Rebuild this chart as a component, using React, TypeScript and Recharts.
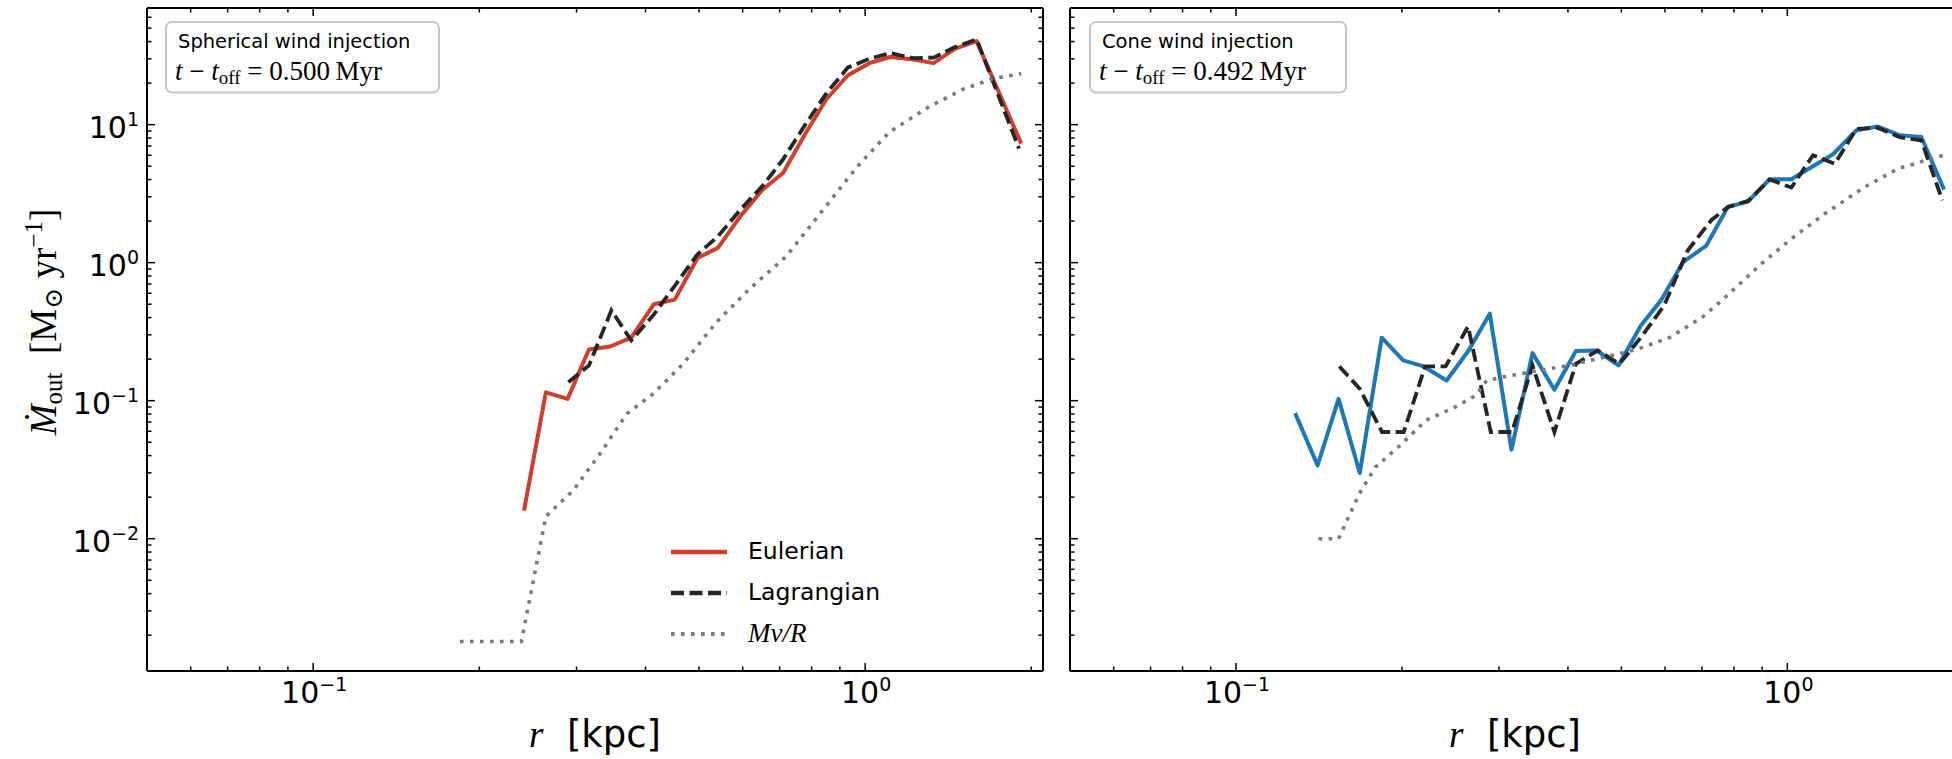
import { Legend, Line, LineChart, XAxis, YAxis } from "recharts";

// radius bins [kpc] and outflow rates [Msun/yr]
const SPH_EUL_R = [0.241, 0.264, 0.289, 0.316, 0.345, 0.377, 0.414, 0.452, 0.497, 0.541, 0.596, 0.652, 0.71, 0.779, 0.852, 0.931, 1.018, 1.11, 1.223, 1.33, 1.456, 1.592, 1.918];
const SPH_EUL_M = [0.016, 0.115, 0.103, 0.235, 0.247, 0.286, 0.499, 0.54, 1.08, 1.28, 2.2, 3.38, 4.46, 8.6, 15.4, 22.8, 27.9, 30.9, 29.6, 27.9, 35.5, 40.3, 7.28];

const SPH_LAG_R = [0.29, 0.316, 0.347, 0.377, 0.414, 0.452, 0.497, 0.541, 0.596, 0.652, 0.71, 0.779, 0.852, 0.931, 1.018, 1.11, 1.223, 1.33, 1.456, 1.592, 1.9];
const SPH_LAG_M = [0.136, 0.18, 0.451, 0.273, 0.42, 0.68, 1.15, 1.55, 2.45, 3.6, 5.6, 10, 17, 26, 30, 33, 30.3, 30.6, 36.5, 41.5, 6.7];

const SPH_MVR_R = [0.1845, 0.2384, 0.264, 0.296, 0.331, 0.37, 0.413, 0.468, 0.538, 0.618, 0.718, 0.833, 0.966, 1.105, 1.302, 1.511, 1.702, 1.918];
const SPH_MVR_M = [0.0018, 0.0018, 0.0145, 0.0224, 0.0413, 0.0805, 0.112, 0.185, 0.371, 0.648, 1.1, 2.33, 4.93, 8.8, 13.4, 18.2, 21.5, 23.4];

const CONE_EUL_R = [0.128, 0.1406, 0.1535, 0.1677, 0.1838, 0.201, 0.219, 0.241, 0.264, 0.2886, 0.316, 0.345, 0.378, 0.4135, 0.451, 0.494, 0.5425, 0.59, 0.647, 0.713, 0.78, 0.849, 0.929, 1.017, 1.113, 1.21, 1.334, 1.457, 1.6, 1.75, 1.924];
const CONE_EUL_M = [0.0813, 0.034, 0.103, 0.0299, 0.286, 0.196, 0.177, 0.14, 0.23, 0.427, 0.0442, 0.221, 0.12, 0.229, 0.231, 0.18, 0.351, 0.533, 1.01, 1.33, 2.53, 2.78, 4.02, 4.02, 5.0, 6.1, 9.1, 9.7, 8.37, 8.13, 3.38];

const CONE_LAG_R = [0.154, 0.1677, 0.184, 0.2015, 0.2203, 0.24, 0.2636, 0.2898, 0.3167, 0.345, 0.378, 0.4135, 0.453, 0.496, 0.546, 0.598, 0.66, 0.728, 0.78, 0.849, 0.929, 1.017, 1.113, 1.219, 1.334, 1.457, 1.6, 1.75, 1.91];
const CONE_LAG_M = [0.177, 0.122, 0.0593, 0.0593, 0.177, 0.177, 0.345, 0.0593, 0.0593, 0.18, 0.0593, 0.185, 0.231, 0.185, 0.297, 0.49, 1.23, 2.03, 2.53, 2.8, 4.0, 3.5, 6.0, 5.2, 9.3, 9.5, 8.1, 7.7, 2.83];

const CONE_MVR_R = [0.1412, 0.1535, 0.1674, 0.179, 0.2, 0.221, 0.25, 0.272, 0.285, 0.304, 0.35, 0.402, 0.462, 0.531, 0.611, 0.702, 0.77, 0.897, 1.017, 1.169, 1.381, 1.588, 1.917];
const CONE_MVR_M = [0.01, 0.01, 0.0212, 0.033, 0.0488, 0.072, 0.09, 0.109, 0.14, 0.148, 0.164, 0.18, 0.205, 0.234, 0.286, 0.404, 0.557, 0.98, 1.49, 2.26, 3.53, 4.8, 6.0];

const X_TICKS = [0.06, 0.07, 0.08, 0.09, 0.1, 0.2, 0.3, 0.4, 0.5, 0.6, 0.7, 0.8, 0.9, 1, 2];
const Y_TICKS = [
  0.002, 0.003, 0.004, 0.005, 0.006, 0.007, 0.008, 0.009, 0.01,
  0.02, 0.03, 0.04, 0.05, 0.06, 0.07, 0.08, 0.09, 0.1,
  0.2, 0.3, 0.4, 0.5, 0.6, 0.7, 0.8, 0.9, 1,
  2, 3, 4, 5, 6, 7, 8, 9, 10,
  20, 30, 40, 50, 60,
];
const X_DOMAIN = [0.05, 2.1];
const Y_DOMAIN = [0.0011, 70];

const zip = (r: number[], m: number[]) => r.map((v, i) => ({ r: v, m: m[i] }));

const LINE_STYLE: Record<string, { stroke: string; strokeWidth: number; strokeDasharray?: string }> = {
  Eulerian: { stroke: "#cd3f2e", strokeWidth: 4 },
  EulerianCone: { stroke: "#1f77b4", strokeWidth: 4 },
  Lagrangian: { stroke: "#262626", strokeWidth: 3.8, strokeDasharray: "13 5.5" },
  "Mv/R": { stroke: "#7a7a7a", strokeWidth: 3.6, strokeDasharray: "3.6 6.4" },
};

const SANS = "DejaVu Sans";
const SERIF = "'Liberation Serif', 'DejaVu Serif', serif";

const isMajor = (v: number) => Math.abs(Math.log10(v) - Math.round(Math.log10(v))) < 1e-6;

const expLabel = (v: number) => {
  const e = Math.round(Math.log10(v));
  return e < 0 ? `\u2212${-e}` : `${e}`;
};

type Side = "bottom" | "top" | "left" | "right";

function makeTick(side: Side, labels: boolean) {
  return (props: any) => {
    const { x, y, payload } = props;
    const v = payload.value as number;
    const major = isMajor(v);
    const len = major ? 8 : 4.5;
    let line;
    if (side === "bottom") line = <line x1={x} x2={x} y1={y} y2={y - len} />;
    else if (side === "top") line = <line x1={x} x2={x} y1={y} y2={y + len} />;
    else if (side === "left") line = <line x1={x} x2={x + len} y1={y} y2={y} />;
    else line = <line x1={x} x2={x - len} y1={y} y2={y} />;
    return (
      <g>
        <g stroke="#000" strokeWidth={1.5}>{line}</g>
        {labels && major && side === "bottom" && (
          <text x={x + 1} y={y + 32} textAnchor="middle" fontFamily={SANS} fontSize={30} fill="#000">
            10<tspan dy={-12} fontSize={19}>{expLabel(v)}</tspan>
          </text>
        )}
        {labels && major && side === "left" && (
          <text x={x - 8} y={y + 13.5} textAnchor="end" fontFamily={SANS} fontSize={30} fill="#000">
            10<tspan dy={-12} fontSize={19}>{expLabel(v)}</tspan>
          </text>
        )}
      </g>
    );
  };
}

const axisLine = { stroke: "#000", strokeWidth: 2 };

function LegendBox(props: any) {
  const { payload } = props;
  return (
    <div>
      {(payload ?? []).map((entry: any) => {
        const st = LINE_STYLE[entry.value] ?? LINE_STYLE.Eulerian;
        const math = entry.value === "Mv/R";
        return (
          <div key={entry.value} style={{ display: "flex", alignItems: "center", height: 41 }}>
            <svg width={56} height={10} style={{ display: "block" }}>
              <line x1={0} x2={56} y1={5} y2={5} stroke={st.stroke} strokeWidth={st.strokeWidth + 0.5} strokeDasharray={st.strokeDasharray} />
            </svg>
            <span
              style={{
                marginLeft: 21,
                fontFamily: math ? SERIF : SANS,
                fontStyle: math ? "italic" : "normal",
                fontSize: math ? 27 : 23.5,
                color: "#000",
                lineHeight: "41px",
              }}
            >
              {entry.value}
            </span>
          </div>
        );
      })}
    </div>
  );
}

interface PanelProps {
  left: number;
  width: number;
  yAxisWidth: number;
  yLabels: boolean;
  eulerian: { r: number; m: number }[];
  lagrangian: { r: number; m: number }[];
  mvr: { r: number; m: number }[];
  eulerianStyle: string;
  legend?: boolean;
}

function Panel({ left, width, yAxisWidth, yLabels, eulerian, lagrangian, mvr, eulerianStyle, legend }: PanelProps) {
  const eul = LINE_STYLE[eulerianStyle];
  const lag = LINE_STYLE.Lagrangian;
  const mv = LINE_STYLE["Mv/R"];
  return (
    <div style={{ position: "absolute", left, top: 0 }}>
      <LineChart width={width} height={759} margin={{ top: 7, right: 7, bottom: 0, left: 0 }}>
        <XAxis xAxisId="b" type="number" dataKey="r" scale="log" domain={X_DOMAIN} allowDataOverflow
          ticks={X_TICKS} interval={0} tickSize={0} tickMargin={0} height={88}
          axisLine={axisLine} tickLine={false} tick={makeTick("bottom", true)} />
        <XAxis xAxisId="t" orientation="top" type="number" dataKey="r" scale="log" domain={X_DOMAIN} allowDataOverflow
          ticks={X_TICKS} interval={0} tickSize={0} tickMargin={0} height={1}
          axisLine={axisLine} tickLine={false} tick={makeTick("top", false)} />
        <YAxis yAxisId="l" type="number" dataKey="m" scale="log" domain={Y_DOMAIN} allowDataOverflow
          ticks={Y_TICKS} interval={0} tickSize={0} tickMargin={0} width={yAxisWidth}
          axisLine={axisLine} tickLine={false} tick={makeTick("left", yLabels)} />
        <YAxis yAxisId="r" orientation="right" type="number" dataKey="m" scale="log" domain={Y_DOMAIN} allowDataOverflow
          ticks={Y_TICKS} interval={0} tickSize={0} tickMargin={0} width={10}
          axisLine={axisLine} tickLine={false} tick={makeTick("right", false)} />
        {legend && (
          <Legend layout="vertical" align="center" verticalAlign="middle" content={LegendBox}
            wrapperStyle={{ left: 671, top: 531, width: 260, height: 125 }} />
        )}
        <Line xAxisId="b" yAxisId="l" name="Eulerian" data={eulerian} dataKey="m" type="linear" dot={false}
          stroke={eul.stroke} strokeWidth={eul.strokeWidth} strokeLinejoin="round" isAnimationActive={false} />
        <Line xAxisId="b" yAxisId="l" name="Lagrangian" data={lagrangian} dataKey="m" type="linear" dot={false}
          stroke={lag.stroke} strokeWidth={lag.strokeWidth} strokeDasharray={lag.strokeDasharray} isAnimationActive={false} />
        <Line xAxisId="b" yAxisId="l" name="Mv/R" data={mvr} dataKey="m" type="linear" dot={false}
          stroke={mv.stroke} strokeWidth={mv.strokeWidth} strokeDasharray={mv.strokeDasharray} isAnimationActive={false} />
      </LineChart>
    </div>
  );
}

function InfoBox({ x, w, title, time }: { x: number; w: number; title: string; time: string }) {
  return (
    <g>
      <rect x={x} y={22} width={w} height={70.5} rx={6} fill="#fff" fillOpacity={0.8} stroke="#c8c8c8" strokeWidth={2} />
      <text x={x + 12} y={47.5} fontFamily={SANS} fontSize={19.5} fill="#000">{title}</text>
      <text x={x + 9} y={80} fontFamily={SERIF} fontSize={27} fill="#000" style={{ whiteSpace: "pre" }}>
        <tspan fontStyle="italic">t</tspan>
        <tspan>{" \u2212 "}</tspan>
        <tspan fontStyle="italic">t</tspan>
        <tspan fontSize={19} dy={4}>off</tspan>
        <tspan dy={-4}>{` = ${time}\u2009Myr`}</tspan>
      </text>
    </g>
  );
}

function XLabel({ cx }: { cx: number }) {
  return (
    <text x={cx} y={747} textAnchor="middle" fontSize={37} fill="#000" style={{ whiteSpace: "pre" }}>
      <tspan fontFamily={SERIF} fontStyle="italic">r</tspan>
      <tspan fontFamily={SANS}>{"  [kpc]"}</tspan>
    </text>
  );
}

export default function App() {
  return (
    <div style={{ position: "fixed", left: 0, top: 0, width: 1952, height: 759, overflow: "hidden", background: "#fff" }}>
      <Panel left={0} width={1060} yAxisWidth={147} yLabels
        eulerian={zip(SPH_EUL_R, SPH_EUL_M)} lagrangian={zip(SPH_LAG_R, SPH_LAG_M)} mvr={zip(SPH_MVR_R, SPH_MVR_M)}
        eulerianStyle="Eulerian" legend />
      <Panel left={1050} width={932} yAxisWidth={20} yLabels={false}
        eulerian={zip(CONE_EUL_R, CONE_EUL_M)} lagrangian={zip(CONE_LAG_R, CONE_LAG_M)} mvr={zip(CONE_MVR_R, CONE_MVR_M)}
        eulerianStyle="EulerianCone" />
      <svg width={1952} height={759} style={{ position: "absolute", left: 0, top: 0, pointerEvents: "none" }}>
        <InfoBox x={166} w={273} title="Spherical wind injection" time="0.500" />
        <InfoBox x={1090} w={256} title="Cone wind injection" time="0.492" />
        <XLabel cx={595} />
        <XLabel cx={1515} />
        <text transform="translate(56,322) rotate(-90)" textAnchor="middle" fontFamily={SERIF} fontSize={37} fill="#000" style={{ whiteSpace: "pre" }}>
          <tspan fontStyle="italic">{"\u1E40"}</tspan>
          <tspan fontSize={25} dy={6}>out</tspan>
          <tspan dy={-6}>{"  [M"}</tspan>
          <tspan fontSize={25} dy={6} fontFamily="DejaVu Serif">{"\u2299"}</tspan>
          <tspan dy={-6}>{" yr"}</tspan>
          <tspan fontSize={25} dy={-14}>{"\u22121"}</tspan>
          <tspan dy={14}>]</tspan>
        </text>
      </svg>
    </div>
  );
}
